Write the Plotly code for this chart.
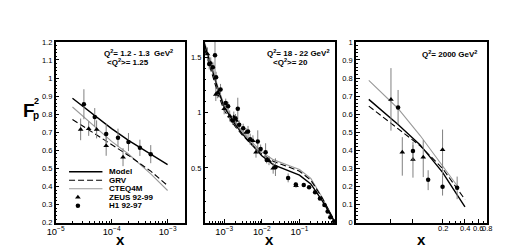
import math
import plotly.graph_objects as go

# ---------------- data ----------------
# Panel 1 : Q2 = 1.2-1.3 GeV2
p1_curve_x = [2e-5, 5e-5, 1e-4, 2e-4, 5e-4, 1e-3]
p1_model = [0.888, 0.792, 0.720, 0.655, 0.580, 0.521]
p1_grv = [0.771, 0.692, 0.632, 0.572, 0.485, 0.405]
p1_cteq = [0.840, 0.730, 0.650, 0.580, 0.470, 0.378]
p1_h1_x = [3.2e-5, 5e-5, 8e-5, 1.3e-4, 2e-4, 3.2e-4, 5e-4]
p1_h1_y = [0.855, 0.784, 0.691, 0.670, 0.646, 0.614, 0.579]
p1_h1_e = [0.083, 0.050, 0.055, 0.050, 0.050, 0.045, 0.050]
p1_zeus_x = [2.8e-5, 3.9e-5, 5.4e-5, 8e-5, 1.6e-4]
p1_zeus_y = [0.716, 0.720, 0.716, 0.625, 0.5625]
p1_zeus_e = [0.060, 0.040, 0.050, 0.055, 0.050]

# Panel 2 : Q2 = 18-22 GeV2
p2_curve_x = [3e-4, 5e-4, 7e-4, 1e-3, 1.5e-3, 2e-3, 3e-3, 5e-3, 1e-2, 2e-2, 5e-2,
              0.1, 0.2, 0.3, 0.4, 0.5, 0.6, 0.7, 0.8, 0.9]
p2_model = [1.62, 1.36, 1.20, 1.05, 0.95, 0.89, 0.81, 0.725, 0.61, 0.53, 0.478,
            0.435, 0.355, 0.27, 0.205, 0.15, 0.105, 0.065, 0.03, 0.0]
p2_grv = [1.58, 1.32, 1.16, 1.02, 0.93, 0.87, 0.80, 0.72, 0.625, 0.56, 0.51,
          0.47, 0.39, 0.30, 0.23, 0.17, 0.12, 0.075, 0.035, 0.005]
p2_cteq = [1.64, 1.39, 1.22, 1.07, 0.97, 0.905, 0.83, 0.745, 0.645, 0.575, 0.525,
           0.485, 0.405, 0.31, 0.235, 0.17, 0.12, 0.075, 0.035, 0.005]
p2_h1_x = [4.0e-4, 5.0e-4, 5.7e-4, 6.1e-4, 8.0e-4, 1.1e-3, 1.27e-3, 1.66e-3, 2.0e-3,
           2.3e-3, 2.5e-3, 3.2e-3, 4.3e-3, 4.9e-3, 7.8e-3, 9.3e-3, 0.0126, 0.0135,
           0.023, 0.05, 0.08, 0.13, 0.18, 0.26, 0.35, 0.46, 0.56, 0.66, 0.83]
p2_h1_y = [1.44, 1.41, 1.52, 1.32, 1.21, 1.087, 1.058, 0.93, 0.948, 1.035, 0.89,
           0.86, 0.83, 0.76, 0.74, 0.672, 0.643, 0.571, 0.507, 0.41, 0.35, 0.345,
           0.325, 0.28, 0.223, 0.165, 0.107, 0.055, 0.015]
p2_h1_e = [0.05, 0.05, 0.2, 0.05, 0.05, 0.04, 0.04, 0.04, 0.04, 0.1, 0.04, 0.04,
           0.05, 0.05, 0.1, 0.04, 0.08, 0.03, 0.08, 0.04, 0.02, 0.01, 0.01, 0.01,
           0.01, 0.01, 0.01, 0.005, 0.005]
p2_zeus_x = [3.6e-4, 4.4e-4, 6.0e-4, 6.6e-4, 1.0e-3, 1.4e-3, 1.8e-3, 2.1e-3, 3.8e-3,
             5.8e-3, 7.0e-3, 0.0155, 0.02, 0.081]
p2_zeus_y = [1.53, 1.45, 1.165, 1.18, 1.035, 0.97, 0.96, 0.93, 0.82, 0.745, 0.643,
             0.565, 0.498, 0.34]
p2_zeus_e = [0.06, 0.05, 0.06, 0.05, 0.05, 0.05, 0.05, 0.04, 0.04, 0.05, 0.05,
             0.04, 0.05, 0.02]

# Panel 3 : Q2 = 2000 GeV2
p3_curve_x = [0.0204, 0.05, 0.1, 0.2, 0.3, 0.4]
p3_model = [0.682, 0.544, 0.430, 0.278, 0.166, 0.087]
p3_grv = [0.645, 0.518, 0.425, 0.300, 0.200, 0.128]
p3_cteq_x = [0.0204, 0.05, 0.1, 0.2, 0.32]
p3_cteq = [0.787, 0.633, 0.482, 0.314, 0.200]
p3_zeus_x = [0.0405, 0.0575, 0.08, 0.11, 0.2]
p3_zeus_y = [0.682, 0.390, 0.349, 0.362, 0.403]
p3_zeus_ep = [0.173, 0.083, 0.080, 0.095, 0.112]
p3_zeus_em = [0.173, 0.130, 0.100, 0.110, 0.143]
p3_h1_x = [0.0505, 0.08, 0.128, 0.2, 0.314]
p3_h1_y = [0.637, 0.397, 0.238, 0.198, 0.193]
p3_h1_ep = [0.097, 0.050, 0.052, 0.062, 0.062]
p3_h1_em = [0.093, 0.050, 0.058, 0.048, 0.063]
p3_tick_vals = [0.04, 0.08, 0.2, 0.4, 0.6, 0.8]
p3_tick_labels = ["0.2", "0.4", "0.6", "0.8"]

legend_names = ["Model", "GRV", "CTEQ4M", "ZEUS 92-99", "H1 92-97"]

# ---------------- figure ----------------
W, H = 506, 251
FONT = "Liberation Sans, Arial, Helvetica, sans-serif"
ERRC = "#808080"

def fx(p):
    return p / W

def fy(p):
    return 1 - p / H

ydom = [fy(218.5), fy(31)]
xdoms = [[fx(39.3), fx(171)], [fx(191), fx(324)], [fx(345), fx(479)]]

fig = go.Figure()

model_line = dict(color="black", width=1.4)
grv_line = dict(color="black", width=1.1, dash="6px,3px")
cteq_line = dict(color="#9a9a9a", width=1.1)


def add_curves(ax, cx, m, g, c, cx_c=None):
    xa, ya = ("x", "y") if ax == 1 else (f"x{ax}", f"y{ax}")
    fig.add_trace(go.Scatter(x=cx_c if cx_c else cx, y=c, mode="lines", line=cteq_line,
                             xaxis=xa, yaxis=ya, hoverinfo="skip"))
    fig.add_trace(go.Scatter(x=cx, y=g, mode="lines", line=grv_line,
                             xaxis=xa, yaxis=ya, hoverinfo="skip"))
    fig.add_trace(go.Scatter(x=cx, y=m, mode="lines", line=model_line,
                             xaxis=xa, yaxis=ya, hoverinfo="skip"))


def add_points(ax, x, y, ep, em, symbol, size):
    xa, ya = ("x", "y") if ax == 1 else (f"x{ax}", f"y{ax}")
    fig.add_trace(go.Scatter(
        x=x, y=y, mode="markers",
        marker=dict(symbol=symbol, size=size, color="black"),
        error_y=dict(type="data", symmetric=False, array=ep, arrayminus=em,
                     color=ERRC, thickness=1, width=0),
        xaxis=xa, yaxis=ya, hoverinfo="skip"))


add_curves(1, p1_curve_x, p1_model, p1_grv, p1_cteq)
add_points(1, p1_zeus_x, p1_zeus_y, p1_zeus_e, p1_zeus_e, "triangle-up", 5)
add_points(1, p1_h1_x, p1_h1_y, p1_h1_e, p1_h1_e, "circle", 4.5)

add_curves(2, p2_curve_x, p2_model, p2_grv, p2_cteq)
add_points(2, p2_zeus_x, p2_zeus_y, p2_zeus_e, p2_zeus_e, "triangle-up", 5)
add_points(2, p2_h1_x, p2_h1_y, p2_h1_e, p2_h1_e, "circle", 4.5)

add_curves(3, p3_curve_x, p3_model, p3_grv, p3_cteq, cx_c=p3_cteq_x)
add_points(3, p3_zeus_x, p3_zeus_y, p3_zeus_ep, p3_zeus_em, "triangle-up", 5)
add_points(3, p3_h1_x, p3_h1_y, p3_h1_ep, p3_h1_em, "circle", 4.5)

# legend samples on a hidden full-page pixel axis
leg_rows = [165.7, 174.5, 183.3, 192.2, 201.0]
leg_styles = [model_line, grv_line, cteq_line]
for i in range(3):
    fig.add_trace(go.Scatter(x=[53, 87], y=[leg_rows[i]] * 2, mode="lines",
                             line=leg_styles[i], xaxis="x4", yaxis="y4",
                             hoverinfo="skip"))
fig.add_trace(go.Scatter(x=[62], y=[leg_rows[3]], mode="markers",
                         marker=dict(symbol="triangle-up", size=5, color="black"),
                         xaxis="x4", yaxis="y4", hoverinfo="skip"))
fig.add_trace(go.Scatter(x=[62], y=[leg_rows[4]], mode="markers",
                         marker=dict(symbol="circle", size=4.5, color="black"),
                         xaxis="x4", yaxis="y4", hoverinfo="skip"))

ann = []
for i, name in enumerate(legend_names):
    ann.append(dict(x=fx(91.5), y=fy(leg_rows[i]), xref="paper", yref="paper",
                    text=f"<b>{name}</b>", showarrow=False, xanchor="left",
                    yanchor="middle", font=dict(size=8, family=FONT)))

# panel headers
def head(xc, yc, txt, size=8):
    ann.append(dict(x=fx(xc), y=fy(yc), xref="paper", yref="paper",
                    text=f"<b>{txt}</b>", showarrow=False, xanchor="center",
                    yanchor="middle", font=dict(size=size, family=FONT)))

head(124, 42.5, "Q<sup>2</sup>= 1.2 - 1.3  GeV<sup>2</sup>")
head(113, 51.5, "&lt;Q<sup>2</sup>&gt;= 1.25")
head(287, 42.5, "Q<sup>2</sup>= 18 - 22 GeV<sup>2</sup>")
head(278, 51.5, "&lt;Q<sup>2</sup>&gt;= 20")
head(440, 43.5, "Q<sup>2</sup>= 2000 GeV<sup>2</sup>")

# panel-3 x tick labels placed on the x3 (log) scale, packed tightly as in the original
for lab in p3_tick_labels:
    ann.append(dict(x=math.log10(float(lab)), xref="x3", y=fy(224.5), yref="paper",
                    text=lab, showarrow=False, xanchor="center", yanchor="middle",
                    font=dict(size=7.5, family=FONT), borderpad=0))

# axis titles
for xc in [105, 257.5, 412]:
    head(xc, 236, "x", size=15)
# F2p label
ann.append(dict(x=fx(12), y=fy(102), xref="paper", yref="paper", text="<b>F</b>",
                showarrow=False, xanchor="center", yanchor="middle",
                font=dict(size=19, family=FONT)))
ann.append(dict(x=fx(19.5), y=fy(92), xref="paper", yref="paper", text="<b>2</b>",
                showarrow=False, xanchor="center", yanchor="middle",
                font=dict(size=9, family=FONT)))
ann.append(dict(x=fx(19.5), y=fy(107), xref="paper", yref="paper", text="<b>p</b>",
                showarrow=False, xanchor="center", yanchor="middle",
                font=dict(size=10, family=FONT)))

axis_common = dict(showline=True, mirror=True, linecolor="black", linewidth=1.5,
                   ticks="inside", tickcolor="black", ticklen=4, tickwidth=1,
                   showgrid=False, zeroline=False, tickangle=0,
                   tickfont=dict(size=7.5, family=FONT, color="black"))

fig.update_layout(
    width=W, height=H, margin=dict(l=0, r=0, t=0, b=0),
    paper_bgcolor="white", plot_bgcolor="rgba(0,0,0,0)", showlegend=False,
    font=dict(family=FONT, size=8, color="black"),
    annotations=ann,
    xaxis=dict(domain=xdoms[0], type="log", range=[-5, -2.69], dtick=1,
               exponentformat="power", anchor="y",
               minor=dict(ticks="inside", ticklen=2, tickcolor="black"),
               **axis_common),
    yaxis=dict(domain=ydom, range=[0.2, 1.2], dtick=0.1, anchor="x",
               minor=dict(ticks="inside", ticklen=2, dtick=0.02, tickcolor="black"),
               **axis_common),
    xaxis2=dict(domain=xdoms[1], type="log", range=[-3.52, -0.05], dtick=1,
                exponentformat="power", anchor="y2",
                minor=dict(ticks="inside", ticklen=2, tickcolor="black"),
                **axis_common),
    yaxis2=dict(domain=ydom, range=[0.005, 1.64], tickvals=[0.5, 1, 1.5],
                ticktext=["0.5", "1", "1.5"], anchor="x2",
                minor=dict(ticks="inside", ticklen=2, dtick=0.1, tickcolor="black"),
                **axis_common),
    xaxis3=dict(domain=xdoms[2], type="log", range=[-1.864, -0.0955],
                tickvals=p3_tick_vals, showticklabels=False, anchor="y3",
                minor=dict(ticks="inside", ticklen=2, tickcolor="black",
                           tickvals=[0.25, 0.3, 0.35, 0.5, 0.7]),
                **axis_common),
    yaxis3=dict(domain=ydom, range=[0, 1], dtick=0.1, anchor="x3",
                minor=dict(ticks="inside", ticklen=2, dtick=0.02, tickcolor="black"),
                **axis_common),
    xaxis4=dict(domain=[0, 1], range=[0, W], visible=False, anchor="y4"),
    yaxis4=dict(domain=[0, 1], range=[H, 0], visible=False, anchor="x4"),
)

fig.write_html("out.html")
